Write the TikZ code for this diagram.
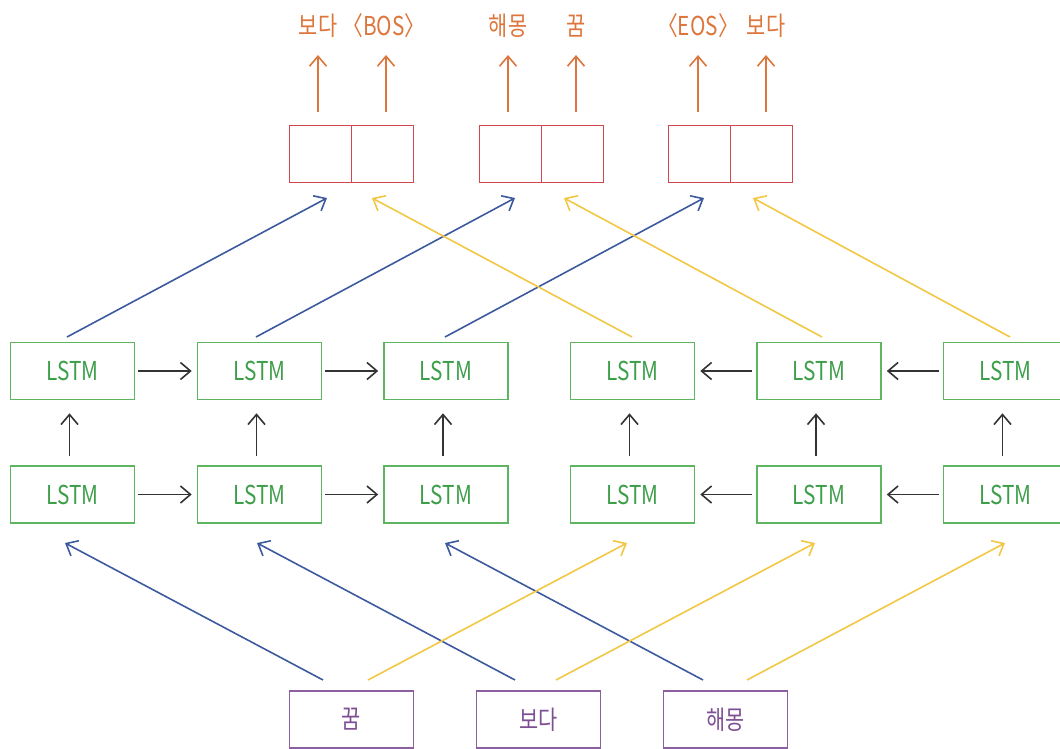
\documentclass[tikz,border=0pt]{standalone}
\usepackage{fontspec}
\setmainfont{Noto Sans CJK KR}[FakeStretch=0.8]
\usetikzlibrary{arrows.meta,calc}
\definecolor{lgreen}{HTML}{5DB561}
\definecolor{tgreen}{HTML}{3E9F4B}
\definecolor{lred}{HTML}{D2474E}
\definecolor{torange}{HTML}{DD763C}
\definecolor{lblue}{HTML}{3D5A9E}
\definecolor{lyellow}{HTML}{F2C744}
\definecolor{lpurple}{HTML}{8C60A0}
\definecolor{tpurple}{HTML}{7E4F93}
\definecolor{dark}{HTML}{333333}
\tikzset{
  lstm/.style={draw=lgreen, line width=1.6pt, minimum width=124pt, minimum height=57pt, inner sep=0pt, text=tgreen, font=\fontsize{26}{26}\selectfont},
  inp/.style={draw=lpurple, line width=1.6pt, minimum width=124pt, minimum height=57pt, inner sep=0pt, text=tpurple, font=\fontsize{26}{26}\selectfont},
  half/.style={draw=lred, line width=1.6pt, minimum width=62pt, minimum height=57pt, inner sep=0pt},
  outlab/.style={text=torange, inner sep=0pt, font=\fontsize{26}{26}\selectfont},
  arr/.style={line width=1.6pt, -{Straight Barb[length=10pt,width=17pt]}},
}
\begin{document}
\begin{tikzpicture}[x=1pt,y=-1pt]
\useasboundingbox (0,0) rectangle (1060,749);
\clip (0,0) rectangle (1060,749);
% LSTM nodes
\foreach \i/\x in {1/72.5,2/259.5,3/446,4/632.5,5/819,6/1005.5}{
  \node[lstm] (t\i) at (\x,371) {LSTM};
  \node[lstm] (b\i) at (\x,494.5) {LSTM};
}
% output halves
\node[half] (o1a) at (320.5,154) {};
\node[half] (o1b) at (382.5,154) {};
\node[half] (o2a) at (510.5,154) {};
\node[half] (o2b) at (572.5,154) {};
\node[half] (o3a) at (699.5,154) {};
\node[half] (o3b) at (761.5,154) {};
% input nodes
\node[inp] (i1) at (351.5,719.5) {꿈};
\node[inp] (i2) at (538.5,719.5) {보다};
\node[inp] (i3) at (725.5,719.5) {해몽};
% output labels
\node[outlab] (l1) at (318,26) {보다};
\node[outlab] (l2) at (384,26) {〈BOS〉};
\node[outlab] (l3) at (508,26) {해몽};
\node[outlab] (l4) at (576,26) {꿈};
\node[outlab] (l5) at (698,26) {〈EOS〉};
\node[outlab] (l6) at (766,26) {보다};
% orange arrows
\foreach \k/\x in {1/318,2/386,3/508,4/576,5/698,6/766}{
  \coordinate (ob\k) at (\x,112);
  \coordinate (ot\k) at (\x,55);
  \draw[arr, draw=torange] (ob\k) -- (ot\k);
}
% horizontal arrows
\draw[arr, draw=dark, shorten <=3pt, shorten >=5pt] (t1) -- (t2);
\draw[arr, draw=dark, shorten <=3pt, shorten >=5pt] (t2) -- (t3);
\draw[arr, draw=dark, shorten <=3pt, shorten >=5pt] (b1) -- (b2);
\draw[arr, draw=dark, shorten <=3pt, shorten >=5pt] (b2) -- (b3);
\draw[arr, draw=dark, shorten <=4pt, shorten >=5pt] (t5) -- (t4);
\draw[arr, draw=dark, shorten <=4pt, shorten >=5pt] (t6) -- (t5);
\draw[arr, draw=dark, shorten <=4pt, shorten >=5pt] (b5) -- (b4);
\draw[arr, draw=dark, shorten <=4pt, shorten >=5pt] (b6) -- (b5);
% vertical arrows
\foreach \i in {1,...,6}{
  \draw[arr, draw=dark, shorten <=9pt, shorten >=13pt] ($(b\i.north)+(-3,0)$) -- ($(t\i.south)+(-3,0)$);
}
% top diagonal arrows
\coordinate (ts1) at (67,337);   \coordinate (te1) at (327,198);
\coordinate (ts2) at (256,337);  \coordinate (te2) at (515,198);
\coordinate (ts3) at (445,337);  \coordinate (te3) at (704,198);
\coordinate (ts4) at (632,337);  \coordinate (te4) at (372,198);
\coordinate (ts5) at (822,337);  \coordinate (te5) at (564,198);
\coordinate (ts6) at (1010,337); \coordinate (te6) at (753,198);
\foreach \k in {1,2,3}{\draw[arr, draw=lblue] (ts\k) -- (te\k);}
\foreach \k in {4,5,6}{\draw[arr, draw=lyellow] (ts\k) -- (te\k);}
% bottom diagonal arrows
\coordinate (bs1) at (323,680); \coordinate (be1) at (65,543);
\coordinate (bs2) at (515,680); \coordinate (be2) at (257,543);
\coordinate (bs3) at (703,680); \coordinate (be3) at (445,543);
\coordinate (bs4) at (368,680); \coordinate (be4) at (627,543);
\coordinate (bs5) at (556,680); \coordinate (be5) at (815,543);
\coordinate (bs6) at (747,680); \coordinate (be6) at (1005,543);
\foreach \k in {1,2,3}{\draw[arr, draw=lblue] (bs\k) -- (be\k);}
\foreach \k in {4,5,6}{\draw[arr, draw=lyellow] (bs\k) -- (be\k);}
\end{tikzpicture}
\end{document}
